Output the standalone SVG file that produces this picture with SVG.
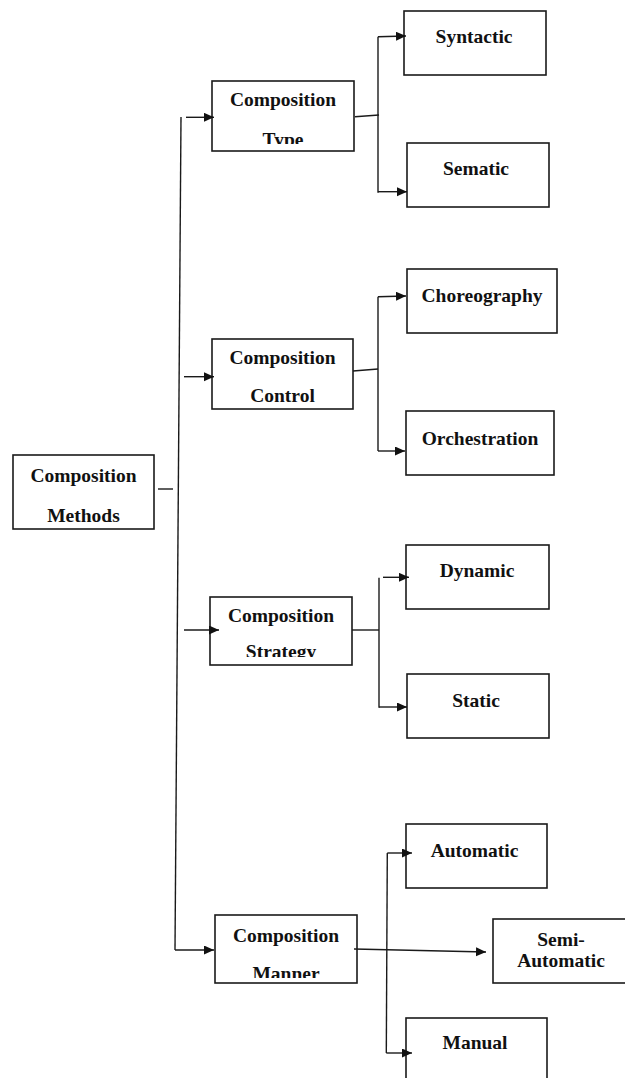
<svg xmlns="http://www.w3.org/2000/svg" width="625" height="1078" viewBox="0 0 625 1078">
  <style>
    .box { fill: #ffffff; stroke: #1a1a1a; stroke-width: 1.6; }
    .lbl { font-family: "Liberation Serif", "Times New Roman", serif; font-weight: bold; font-size: 19.5px; fill: #111111; text-anchor: middle; }
    .wire { fill: none; stroke: #1a1a1a; stroke-width: 1.4; }
    .arrow { fill: none; stroke: #1a1a1a; stroke-width: 1.4; marker-end: url(#head); }
  </style>
  <defs>
    <marker id="head" markerUnits="userSpaceOnUse" markerWidth="12" markerHeight="12" refX="10" refY="4.5" orient="auto">
      <path d="M0,0 L10,4.5 L0,9 z" fill="#111111"/>
    </marker>
    <!-- second text lines of some boxes are cut at their baseline by the box interior -->
    <clipPath id="clipType"><rect x="212" y="81" width="142" height="63"/></clipPath>
    <clipPath id="clipStrategy"><rect x="210" y="597" width="142" height="60"/></clipPath>
    <clipPath id="clipManner"><rect x="215" y="915" width="142" height="63"/></clipPath>
  </defs>

  <rect width="625" height="1078" fill="#ffffff"/>

  <!-- root -->
  <g id="composition-methods">
    <rect class="box" x="13" y="455" width="141" height="74"/>
    <text class="lbl" x="83.5" y="481.7">Composition</text>
    <text class="lbl" x="83.5" y="521.7">Methods</text>
  </g>

  <!-- second level -->
  <g id="composition-type">
    <rect class="box" x="212" y="81" width="142" height="70"/>
    <text class="lbl" x="283" y="106">Composition</text>
    <text class="lbl" x="283" y="146" clip-path="url(#clipType)">Type</text>
  </g>
  <g id="composition-control">
    <rect class="box" x="212" y="339" width="141" height="70"/>
    <text class="lbl" x="282.5" y="364.3">Composition</text>
    <text class="lbl" x="282.5" y="402.3">Control</text>
  </g>
  <g id="composition-strategy">
    <rect class="box" x="210" y="597" width="142" height="68"/>
    <text class="lbl" x="281" y="621.7">Composition</text>
    <text class="lbl" x="281" y="658" clip-path="url(#clipStrategy)">Strategy</text>
  </g>
  <g id="composition-manner">
    <rect class="box" x="215" y="915" width="142" height="68"/>
    <text class="lbl" x="286" y="941.7">Composition</text>
    <text class="lbl" x="286" y="980" clip-path="url(#clipManner)">Manner</text>
  </g>

  <!-- leaves -->
  <g id="syntactic">
    <rect class="box" x="404" y="11" width="142" height="64"/>
    <text class="lbl" x="474" y="43">Syntactic</text>
  </g>
  <g id="sematic">
    <rect class="box" x="407" y="143" width="142" height="64"/>
    <text class="lbl" x="476" y="175">Sematic</text>
  </g>
  <g id="choreography">
    <rect class="box" x="407" y="269" width="150" height="64"/>
    <text class="lbl" x="482" y="301.7">Choreography</text>
  </g>
  <g id="orchestration">
    <rect class="box" x="406" y="411" width="148" height="64"/>
    <text class="lbl" x="480" y="445">Orchestration</text>
  </g>
  <g id="dynamic">
    <rect class="box" x="406" y="545" width="143" height="64"/>
    <text class="lbl" x="477" y="577.3">Dynamic</text>
  </g>
  <g id="static">
    <rect class="box" x="407" y="674" width="142" height="64"/>
    <text class="lbl" x="476" y="706.7">Static</text>
  </g>
  <g id="automatic">
    <rect class="box" x="406" y="824" width="141" height="64"/>
    <text class="lbl" x="474.5" y="857.3">Automatic</text>
  </g>
  <g id="semi-automatic">
    <rect class="box" x="493" y="919" width="140" height="64"/>
    <text class="lbl" x="561" y="945.7">Semi-</text>
    <text class="lbl" x="561" y="966.7">Automatic</text>
  </g>
  <g id="manual">
    <rect class="box" x="406" y="1018" width="141" height="70"/>
    <text class="lbl" x="475" y="1049.3">Manual</text>
  </g>

  <!-- connectors, drawn over the boxes so arrowheads that touch an edge stay visible -->
  <g id="connectors">
    <line class="wire" x1="158" y1="489" x2="173" y2="489"/>
    <path class="wire" d="M181,117 L175,950"/>
    <line class="arrow" x1="186" y1="117.3" x2="214" y2="117.3"/>
    <line class="arrow" x1="184" y1="376.7" x2="214" y2="376.7"/>
    <line class="arrow" x1="184" y1="630" x2="219" y2="630"/>
    <line class="arrow" x1="175" y1="950" x2="214" y2="950"/>

    <!-- Composition Type branches -->
    <line class="wire" x1="355" y1="116.7" x2="379" y2="115"/>
    <line class="wire" x1="378" y1="36.7" x2="378" y2="192.7"/>
    <line class="arrow" x1="378" y1="36.7" x2="406" y2="36"/>
    <line class="arrow" x1="378" y1="191.7" x2="407" y2="191.7"/>

    <!-- Composition Control branches -->
    <line class="wire" x1="353" y1="371" x2="378" y2="369"/>
    <line class="wire" x1="378" y1="296.7" x2="378" y2="451"/>
    <line class="arrow" x1="378" y1="296.7" x2="406" y2="296"/>
    <line class="arrow" x1="378" y1="451" x2="405" y2="451"/>

    <!-- Composition Strategy branches -->
    <line class="wire" x1="352" y1="630" x2="379" y2="630"/>
    <line class="wire" x1="379" y1="577.7" x2="379" y2="707.7"/>
    <line class="arrow" x1="383" y1="577.3" x2="409" y2="577.3"/>
    <line class="arrow" x1="379" y1="707" x2="407" y2="707"/>

    <!-- Composition Manner branches -->
    <line class="arrow" x1="354" y1="949" x2="486" y2="952"/>
    <line class="wire" x1="387.3" y1="853" x2="386.3" y2="1053"/>
    <line class="arrow" x1="387.3" y1="853" x2="412" y2="853"/>
    <line class="arrow" x1="386.3" y1="1053" x2="412" y2="1053"/>
  </g>
</svg>
